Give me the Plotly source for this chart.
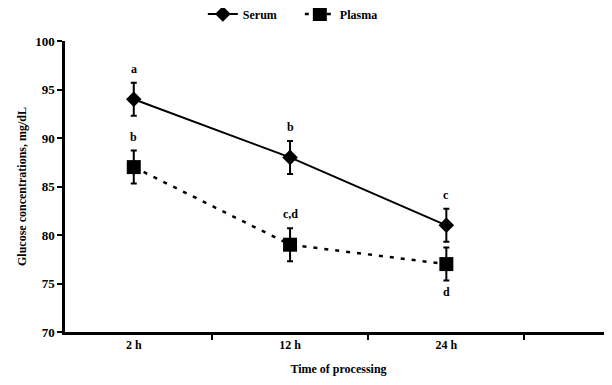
import plotly.graph_objects as go

times = ["2 h", "12 h", "24 h"]
serum = [94, 88, 81]
serum_err = [1.7, 1.7, 1.7]
plasma = [87, 79, 77]
plasma_err = [1.7, 1.7, 1.7]
serum_letters = ["a", "b", "c"]
plasma_letters = ["b", "c,d", "d"]
plasma_below = [False, False, True]

_FONT = dict(family="Liberation Serif", color="black", weight="bold")

fig = go.Figure()
fig.add_scatter(
    x=times, y=serum, name="Serum", mode="lines+markers",
    line=dict(color="black", width=2),
    marker=dict(symbol="diamond", size=12, color="black"),
    error_y=dict(type="data", array=serum_err, color="black", thickness=2, width=3),
)
fig.add_scatter(
    x=times, y=plasma, name="Plasma", mode="lines+markers",
    line=dict(color="black", width=2.5, dash="4px,7px"),
    marker=dict(symbol="square", size=14, color="black"),
    error_y=dict(type="data", array=plasma_err, color="black", thickness=2, width=3),
)

for t, v, e, lab in zip(times, serum, serum_err, serum_letters):
    fig.add_annotation(x=t, y=v + e, text=lab, showarrow=False,
                       yanchor="bottom", yshift=5, font=dict(size=12, **_FONT))
for t, v, e, lab, below in zip(times, plasma, plasma_err, plasma_letters, plasma_below):
    fig.add_annotation(x=t, y=v - e if below else v + e, text=lab, showarrow=False,
                       yanchor="top" if below else "bottom",
                       yshift=-2 if below else 5, font=dict(size=12, **_FONT))

# page body has an 8px margin, so the margins are shifted to match the reference
fig.update_layout(
    width=612, height=385,
    paper_bgcolor="white", plot_bgcolor="white",
    font=dict(size=13, **_FONT),
    margin=dict(l=57, r=8, t=33, b=61, autoexpand=False),
    legend=dict(orientation="h", x=0.252, xanchor="left", y=1.093, yanchor="middle",
                font=dict(size=12, **_FONT), itemwidth=30, entrywidth=52,
                bgcolor="rgba(0,0,0,0)"),
    xaxis=dict(
        type="category", range=[-0.44, 3.06], tickson="boundaries",
        ticks="outside", ticklen=5, tickwidth=2, tickcolor="black",
        showline=True, linecolor="black", linewidth=2.5, showgrid=False,
        title=dict(text="Time of processing", font=dict(size=12, **_FONT), standoff=14),
        tickfont=dict(size=12, **_FONT),
    ),
    yaxis=dict(
        range=[70, 100], dtick=5, ticks="outside", ticklen=5, tickwidth=2,
        tickcolor="black", showline=True, linecolor="black", linewidth=2.5,
        showgrid=False, zeroline=False,
        title=dict(text="Glucose concentrations, mg/dL", font=dict(size=12, **_FONT), standoff=6),
        tickfont=dict(size=13, **_FONT),
    ),
)

fig.write_html("out.html")
